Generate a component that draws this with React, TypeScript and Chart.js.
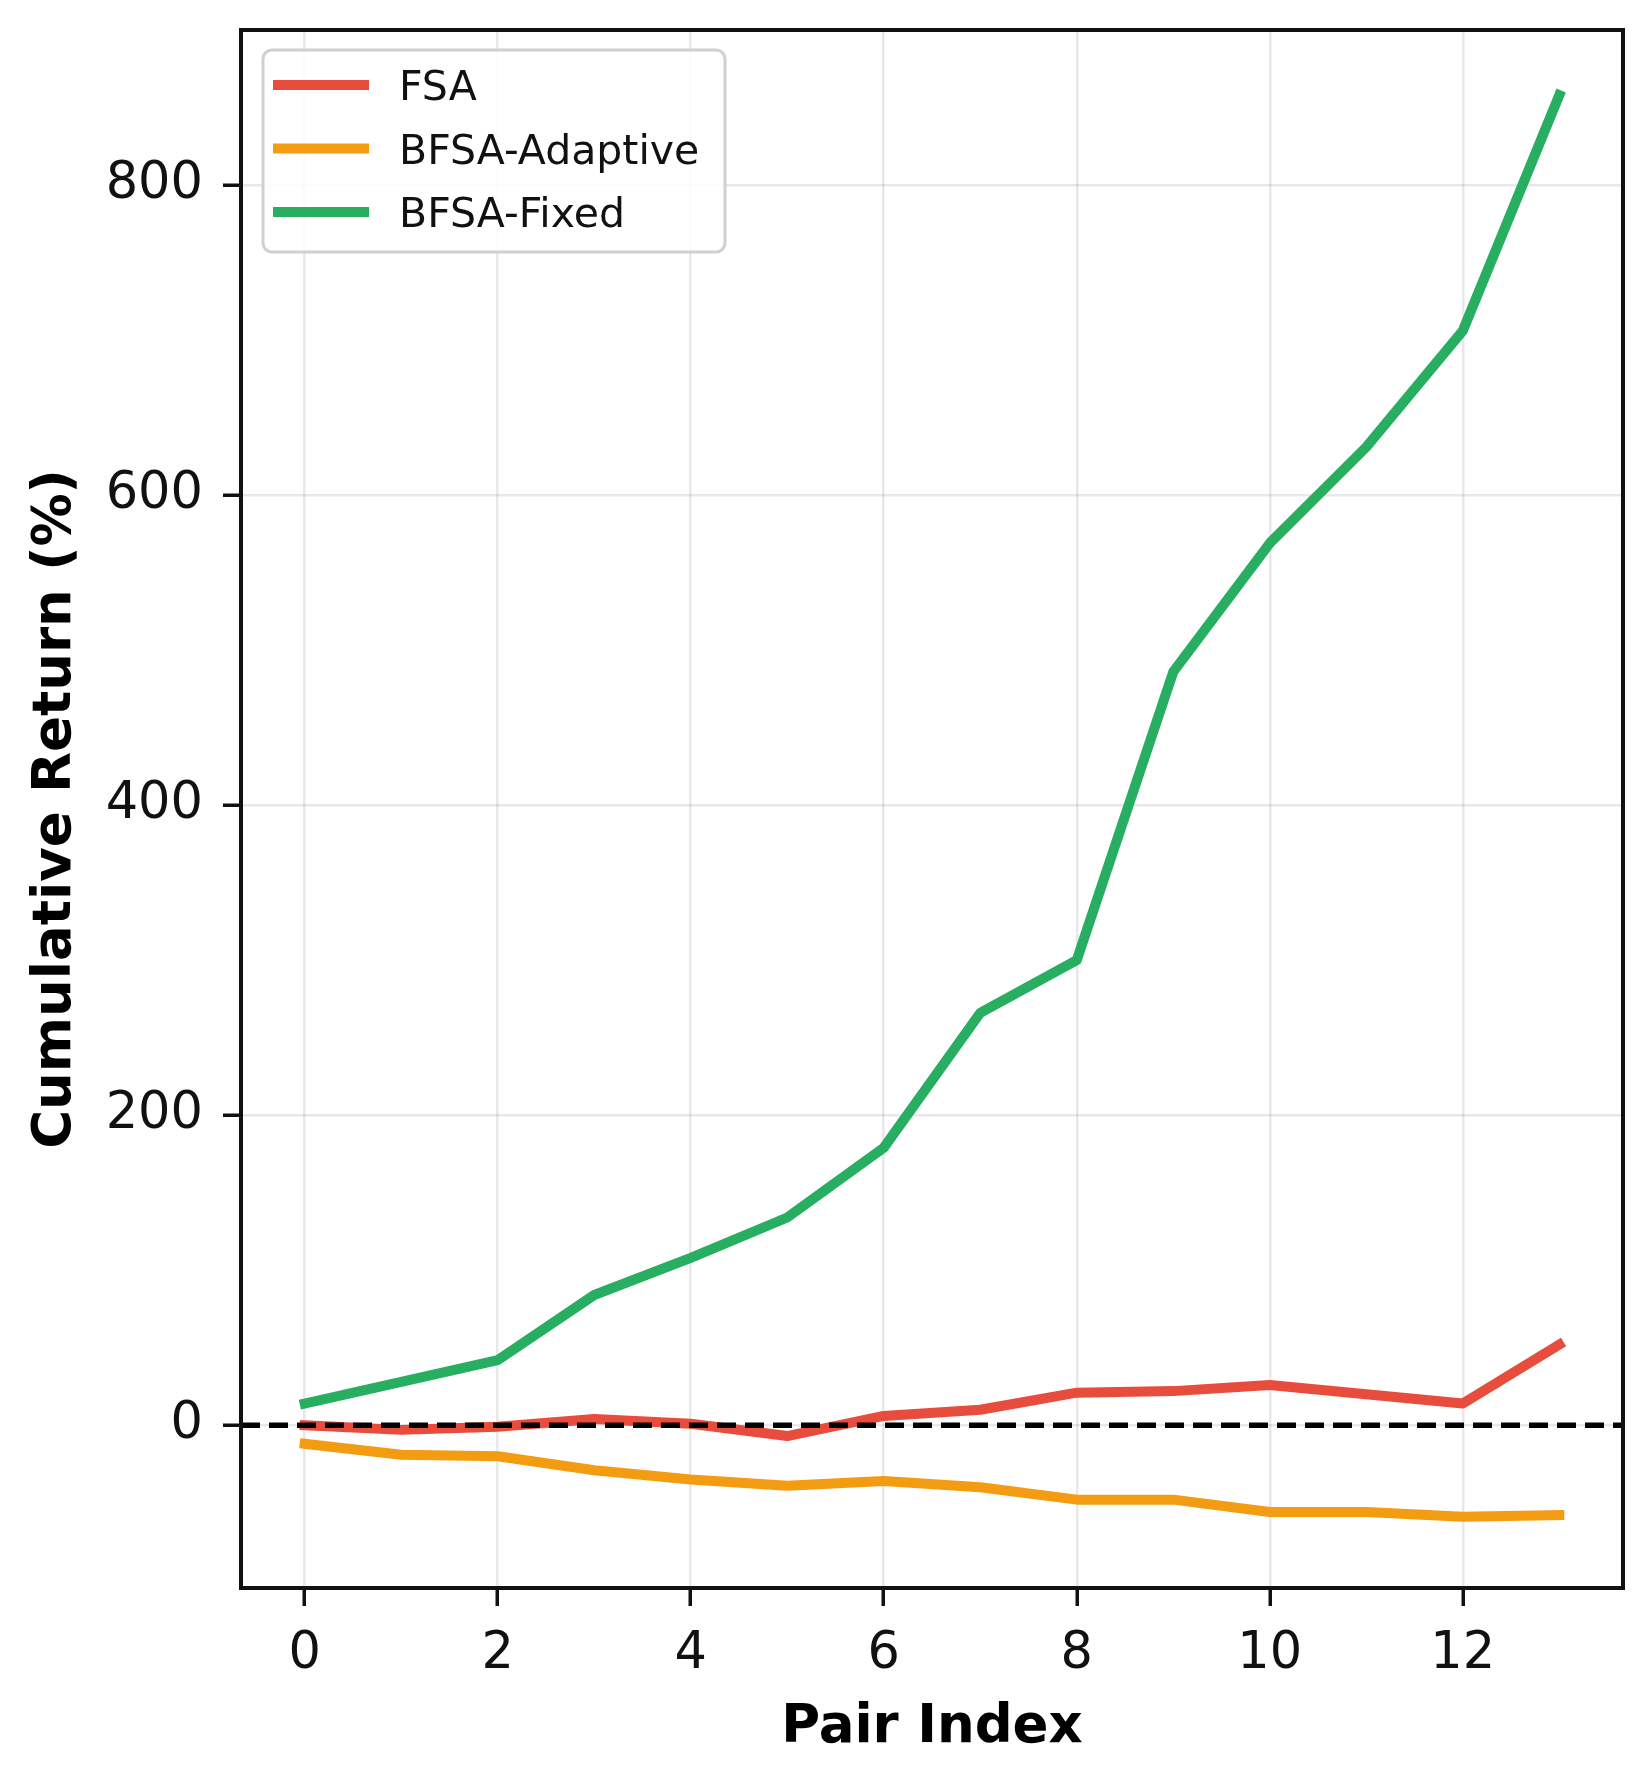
import { useEffect, useRef } from 'react';
import { Chart, registerables } from 'chart.js';

Chart.register(...registerables);

const pairIndex = [0, 1, 2, 3, 4, 5, 6, 7, 8, 9, 10, 11, 12, 13];
const fsa = [0, -3, -1, 4, 1, -7, 6, 10, 21, 22, 26, 20, 14, 52];
const bfsaAdaptive = [-12, -19, -20, -29, -35, -39, -36, -40, -48, -48, -56, -56, -59, -58];
const bfsaFixed = [14, 28, 42, 84, 108, 134, 179, 266, 300, 486, 569, 631, 706, 858];

const xTicks = [0, 2, 4, 6, 8, 10, 12];
const yTicks = [0, 200, 400, 600, 800];

const FONT = '"DejaVu Sans", sans-serif';

// zero line over the data, then frame and legend box on top
const overlay = {
  id: 'overlay',
  afterDatasetsDraw(chart: any) {
    const { ctx, chartArea: a, scales } = chart;
    const y0 = scales.y.getPixelForValue(0);
    ctx.save();
    ctx.strokeStyle = '#000';
    ctx.lineWidth = 5.5;
    ctx.setLineDash([19, 9]);
    ctx.beginPath();
    ctx.moveTo(a.left, y0);
    ctx.lineTo(a.right, y0);
    ctx.stroke();
    ctx.restore();
  },
  afterDraw(chart: any) {
    const { ctx, chartArea: a } = chart;
    ctx.save();
    ctx.strokeStyle = '#111';
    ctx.lineWidth = 4;
    ctx.strokeRect(a.left, a.top, a.right - a.left, a.bottom - a.top);

    // legend
    const bx = a.left + 22;
    const by = a.top + 20;
    const bw = 462;
    const bh = 202;
    ctx.fillStyle = 'rgba(255,255,255,0.85)';
    ctx.strokeStyle = '#d0d0d0';
    ctx.lineWidth = 3;
    ctx.beginPath();
    ctx.roundRect(bx, by, bw, bh, 9);
    ctx.fill();
    ctx.stroke();

    ctx.font = `41px ${FONT}`;
    ctx.textBaseline = 'alphabetic';
    ctx.textAlign = 'left';
    chart.data.datasets.forEach((ds: any, i: number) => {
      const ly = by + 35 + i * 63.5;
      ctx.strokeStyle = ds.borderColor;
      ctx.lineWidth = 10;
      ctx.lineCap = 'butt';
      ctx.beginPath();
      ctx.moveTo(bx + 10, ly);
      ctx.lineTo(bx + 106, ly);
      ctx.stroke();
      ctx.fillStyle = '#111';
      ctx.fillText(ds.label, bx + 136, ly + 15);
    });
    ctx.restore();
  },
};

const noPad = (s: any) => {
  s.paddingTop = 0;
  s.paddingBottom = 0;
  s.paddingLeft = 0;
  s.paddingRight = 0;
};

export default function App() {
  const canvasRef = useRef<HTMLCanvasElement>(null);
  const chartRef = useRef<Chart | null>(null);

  useEffect(() => {
    document.body.style.margin = '0';
    if (!canvasRef.current) return;
    if (chartRef.current) chartRef.current.destroy();

    const toPoints = (vals: number[]) => vals.map((v, i) => ({ x: pairIndex[i], y: v }));
    const line = (label: string, vals: number[], color: string) => ({
      label,
      data: toPoints(vals),
      borderColor: color,
      backgroundColor: color,
      borderWidth: 10,
      pointRadius: 0,
      tension: 0,
      borderCapStyle: 'square' as const,
      borderJoinStyle: 'round' as const,
    });

    chartRef.current = new Chart(canvasRef.current, {
      type: 'line',
      data: {
        datasets: [
          line('FSA', fsa, '#e74c3c'),
          line('BFSA-Adaptive', bfsaAdaptive, '#f39c12'),
          line('BFSA-Fixed', bfsaFixed, '#27ae60'),
        ],
      },
      options: {
        animation: false,
        responsive: true,
        maintainAspectRatio: false,
        layout: { padding: { top: 30, right: 24, left: 0, bottom: 0 } },
        plugins: {
          legend: { display: false },
          tooltip: { enabled: false },
        },
        scales: {
          x: {
            type: 'linear',
            min: -0.66,
            max: 13.66,
            afterBuildTicks: (s: any) => {
              s.ticks = xTicks.map((v) => ({ value: v }));
            },
            afterFit: (s: any) => {
              s.height = 178;
              noPad(s);
            },
            border: { display: false },
            grid: {
              color: 'rgba(0,0,0,0.09)',
              lineWidth: 2.5,
              drawTicks: true,
              tickLength: 18,
              tickColor: '#111',
              tickWidth: 3.5,
            },
            ticks: {
              color: '#111',
              padding: 18,
              maxRotation: 0,
              font: { family: FONT, size: 51 },
              callback: (v: any) => String(v),
            },
            title: {
              display: true,
              text: 'Pair Index',
              color: '#000',
              font: { family: FONT, size: 53, weight: 'bold', lineHeight: 1 },
              padding: { top: 0, bottom: 11 },
            },
          },
          y: {
            type: 'linear',
            min: -105,
            max: 900,
            afterBuildTicks: (s: any) => {
              s.ticks = yTicks.map((v) => ({ value: v }));
            },
            afterFit: (s: any) => {
              s.width = 241;
              noPad(s);
            },
            border: { display: false },
            grid: {
              color: 'rgba(0,0,0,0.09)',
              lineWidth: 2.5,
              drawTicks: true,
              tickLength: 18,
              tickColor: '#111',
              tickWidth: 3.5,
            },
            ticks: {
              color: '#111',
              padding: 20,
              font: { family: FONT, size: 51 },
              callback: (v: any) => String(v),
            },
            title: {
              display: true,
              text: 'Cumulative Return (%)',
              color: '#000',
              font: { family: FONT, size: 53, weight: 'bold', lineHeight: 1 },
              padding: { top: 30, bottom: 0 },
            },
          },
        },
      },
      plugins: [overlay],
    });

    return () => {
      if (chartRef.current) {
        chartRef.current.destroy();
        chartRef.current = null;
      }
    };
  }, []);

  return (
    <div style={{ position: 'relative', width: 1647, height: 1766, background: '#fff' }}>
      <canvas ref={canvasRef}></canvas>
    </div>
  );
}
